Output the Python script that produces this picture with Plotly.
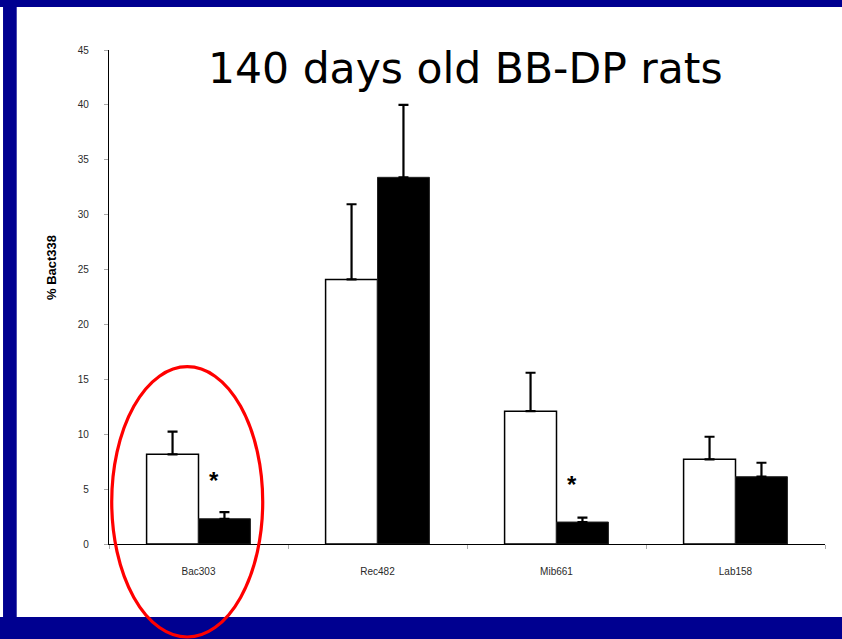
import plotly.graph_objects as go

# Probe groups and measured percentages of Bact338-positive bacteria
probes = ["Bac303", "Rec482", "Mib661", "Lab158"]
open_means = [8.17, 24.1, 12.1, 7.71]
open_errs = [2.06, 6.85, 3.5, 2.06]
filled_means = [2.30, 33.4, 2.0, 6.13]
filled_errs = [0.61, 6.6, 0.4, 1.27]

# significance marks (probe, height)
star_probes = ["Bac303", "Mib661"]
star_heights = [5.8, 5.45]

y_ticks = [0, 5, 10, 15, 20, 25, 30, 35, 40, 45]

NAVY = "#000090"
TICK_FONT = dict(family="Liberation Sans, Arial, sans-serif", size=10, color="#2a2a2a")

fig = go.Figure()

fig.add_trace(go.Bar(
    x=probes, y=open_means, name="open",
    marker=dict(color="white", line=dict(color="black", width=1.5)),
    error_y=dict(type="data", array=open_errs, arrayminus=[0] * len(probes),
                 symmetric=False, color="black", thickness=2.2, width=5),
))
fig.add_trace(go.Bar(
    x=probes, y=filled_means, name="filled",
    marker=dict(color="black", line=dict(color="#222222", width=1)),
    error_y=dict(type="data", array=filled_errs, arrayminus=[0] * len(probes),
                 symmetric=False, color="black", thickness=2.2, width=5),
))

# Slide-style frame in navy
frame = [
    dict(x0=-0.3, x1=1.2, y0=1.087, y1=1.3),      # top band
    dict(x0=-0.148, x1=-0.1289, y0=-0.3, y1=1.3),  # left band
    dict(x0=-0.3, x1=1.2, y0=-0.1478, y1=-0.3),   # bottom band
]
shapes = [
    dict(type="rect", xref="paper", yref="paper", line=dict(width=0),
         fillcolor=NAVY, layer="below", **f)
    for f in frame
]
# Red ellipse highlighting the first probe group
shapes.append(dict(type="circle", xref="paper", yref="paper",
                   x0=0.0038, x1=0.2147, y0=-0.1883, y1=0.3589,
                   line=dict(color="#ff0000", width=3.2), layer="above"))

annotations = [
    dict(text="140 days old BB-DP rats", xref="paper", yref="paper",
         x=(465 - 109) / 716, y=(544 - 69) / 494, showarrow=False,
         xanchor="center", yanchor="middle",
         font=dict(family="DejaVu Sans", size=42.5, color="black")),
    dict(text="<b>% Bact338</b>", xref="paper", yref="paper",
         x=(51 - 109) / 716, y=(544 - 268) / 494, showarrow=False,
         textangle=-90, xanchor="center", yanchor="middle",
         font=dict(family="Liberation Sans, Arial, sans-serif", size=13, color="black")),
]
for p, h in zip(star_probes, star_heights):
    annotations.append(dict(text="<b>*</b>", x=probes.index(p) + 0.084, y=h,
                            xref="x", yref="y", showarrow=False,
                            xanchor="center", yanchor="middle",
                            font=dict(family="Liberation Sans, Arial, sans-serif",
                                      size=24, color="black")))

fig.update_layout(
    width=842, height=639,
    margin=dict(l=109, r=17, t=50, b=95),
    paper_bgcolor="white", plot_bgcolor="white",
    barmode="group", bargap=0.42, bargroupgap=0,
    showlegend=False,
    shapes=shapes, annotations=annotations,
    xaxis=dict(
        type="category", showline=True, linecolor="black", linewidth=1.2,
        ticks="outside", tickson="boundaries", ticklen=4, tickcolor="#aaaaaa",
        tickfont=TICK_FONT, ticklabelstandoff=18, showgrid=False, zeroline=False,
    ),
    yaxis=dict(
        range=[0, 45], tickvals=y_ticks, showline=True, linecolor="black", linewidth=1.2,
        ticks="outside", ticklen=4, tickcolor="#aaaaaa", tickfont=TICK_FONT,
        ticklabelstandoff=13, showgrid=False, zeroline=False,
    ),
)

fig.write_html("out.html")
